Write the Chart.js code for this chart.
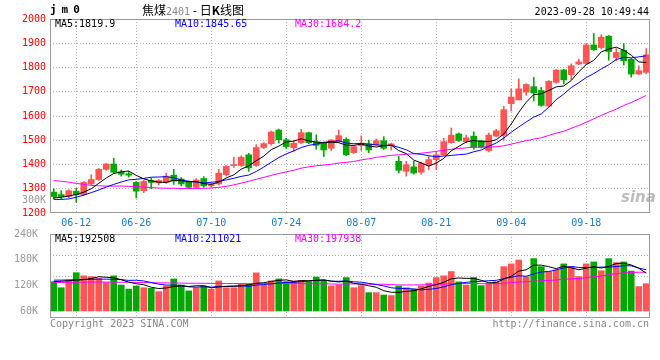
<!DOCTYPE html>
<html>
<head>
<meta charset="utf-8">
<script src="https://cdn.jsdelivr.net/npm/chart.js@4.4.0/dist/chart.umd.min.js"></script>
<style>
  body { margin: 0; background: #fff; }
  #wrap { position: relative; width: 660px; height: 360px; overflow: hidden; font-family: "DejaVu Sans Mono", monospace; font-size: 10px; }
  .t { position: absolute; white-space: pre; line-height: 12px; }
  canvas { position: absolute; left: 0; }
</style>
</head>
<body>
<div id="wrap">
  <canvas id="kline" width="660" height="234" style="top:0"></canvas>
  <canvas id="vol" width="660" height="110" style="top:220px"></canvas>

  <div class="t" style="left:50px;top:4px;font-weight:bold;font-size:11px;letter-spacing:5px">jm0</div>
  <div class="t" style="left:142px;top:3px;font-family:'Noto Sans CJK SC';font-size:12px;line-height:14px">焦煤<span style="color:#888;font-family:'DejaVu Sans Mono';font-size:10px">2401</span> - 日<b>K</b>线图</div>
  <div class="t" style="right:11px;top:6px;color:#000">2023-09-28 10:49:44</div>

  <div class="t" id="ma5" style="left:55px;top:18px;color:#000"></div>
  <div class="t" id="ma10" style="left:175px;top:18px;color:#0000ff"></div>
  <div class="t" id="ma30" style="left:295px;top:18px;color:#ff00ff"></div>

  <div class="t" style="right:614px;top:194px;color:#999">300K</div>

  <div class="t" id="vma5" style="left:55px;top:233px;color:#000"></div>
  <div class="t" id="vma10" style="left:175px;top:233px;color:#0000ff"></div>
  <div class="t" id="vma30" style="left:295px;top:233px;color:#ff00ff"></div>

  <div class="t" style="left:50px;top:318px;color:#888">Copyright 2023 SINA.COM</div>
  <div class="t" style="right:11px;top:318px;color:#888">http://finance.sina.com.cn</div>
  <div class="t" style="left:621px;top:188px;font-family:'DejaVu Sans';font-style:italic;font-weight:bold;font-size:15px;line-height:18px;color:rgba(160,160,160,0.7)">sina</div>
</div>
<script>
/*************
--- DATA ---
**************/

const dates = [
  "06-07","06-08","06-09","06-12","06-13","06-14","06-15","06-16","06-19","06-20",
  "06-21","06-26","06-27","06-28","06-29","06-30","07-03","07-04","07-05","07-06",
  "07-07","07-10","07-11","07-12","07-13","07-14","07-17","07-18","07-19","07-20",
  "07-21","07-24","07-25","07-26","07-27","07-28","07-31","08-01","08-02","08-03",
  "08-04","08-07","08-08","08-09","08-10","08-11","08-14","08-15","08-16","08-17",
  "08-18","08-21","08-22","08-23","08-24","08-25","08-28","08-29","08-30","08-31",
  "09-01","09-04","09-05","09-06","09-07","09-08","09-11","09-12","09-13","09-14",
  "09-15","09-18","09-19","09-20","09-21","09-22","09-25","09-26","09-27","09-28"
];
const xTicks = ["06-12", "06-26", "07-10", "07-24", "08-07", "08-21", "09-04", "09-18"];
const priceTicks = [1200, 1300, 1400, 1500, 1600, 1700, 1800, 1900, 2000];
const volTicks = [60, 120, 180, 240]; // K

const opens = [
  1286,1276,1268,1290,1276,1320,1338,1380,1402,1370, 1362,1326,1292,1334,1324,1326,1356,1340,1328,1306,
  1342,1312,1320,1358,1396,1396,1440,1396,1470,1486, 1542,1502,1469,1490,1531,1493,1488,1467,1494,1504,
  1449,1478,1485,1481,1498,1477,1413,1372,1390,1368, 1399,1420,1440,1490,1526,1494,1517,1498,1457,1517,
  1520,1651,1667,1698,1721,1705,1641,1739,1790,1770, 1814,1817,1893,1882,1929,1841,1871,1834,1773,1780
];
const closes = [
  1268,1268,1292,1276,1326,1338,1380,1402,1368,1360, 1356,1290,1330,1326,1334,1352,1332,1320,1306,1336,
  1312,1318,1364,1392,1400,1430,1386,1470,1486,1534, 1502,1474,1488,1531,1490,1479,1460,1501,1519,1440,
  1474,1488,1460,1498,1467,1485,1376,1399,1365,1406, 1420,1440,1494,1521,1499,1510,1471,1471,1521,1539,
  1626,1678,1712,1730,1695,1644,1743,1789,1749,1807, 1823,1893,1874,1925,1866,1862,1828,1773,1787,1852
];
const highs = [
  1300,1292,1296,1302,1330,1358,1384,1404,1426,1378, 1372,1330,1334,1344,1338,1364,1380,1346,1332,1342,
  1350,1322,1380,1396,1430,1436,1446,1482,1490,1538, 1546,1508,1498,1545,1533,1522,1492,1503,1542,1510,
  1478,1518,1501,1505,1515,1488,1433,1413,1413,1410, 1433,1450,1508,1551,1530,1521,1535,1500,1530,1545,
  1640,1712,1753,1733,1759,1718,1746,1793,1793,1815, 1834,1899,1940,1935,1932,1878,1899,1838,1807,1878
];
const lows = [
  1258,1258,1262,1244,1272,1316,1334,1376,1364,1352, 1348,1262,1284,1300,1316,1322,1318,1312,1302,1302,
  1306,1306,1316,1352,1388,1392,1372,1392,1466,1480, 1488,1466,1454,1485,1486,1463,1433,1458,1490,1436,
  1446,1458,1449,1478,1462,1460,1365,1352,1360,1360, 1379,1379,1438,1487,1495,1490,1463,1468,1452,1515,
  1500,1621,1665,1685,1662,1640,1638,1735,1732,1750, 1812,1812,1870,1878,1830,1828,1810,1760,1770,1775
];
const ma5 = [
  1262,1265,1270,1276,1286,1300,1322.4,1344.4,1362.8,1369.6, 1373.2,1355.2,1340.8,1332.4,1327.2,1326.4,1334.8,1332.8,1328.8,1329.2,
  1321.2,1318.4,1327.2,1344.4,1357.2,1380.8,1394.4,1415.6,1434.4,1461.2, 1475.6,1493.2,1496.8,1505.8,1497,1492.4,1489.6,1492.2,1489.8,1479.8,
  1478.8,1484.4,1476.2,1472,1477.4,1479.6,1457.2,1445,1418.4,1406.2, 1393.2,1406,1425,1456.2,1474.8,1492.8,1499,1494.4,1494.4,1502.4,
  1525.6,1567,1615.2,1657,1688.2,1691.8,1704.8,1720.2,1724,1746.4, 1782.2,1812.2,1829.2,1864.4,1876.2,1884,1871,1850.8,1823.2,1820.4
];
const ma10 = [
  1256,1256,1258,1265,1274,1284,1295,1307,1318,1327.8, 1336.6,1338.8,1342.6,1347.6,1348.4,1349.8,1345,1336.8,1330.6,1328.2,
  1323.8,1326.6,1330,1336.6,1343.2,1351,1356.4,1371.4,1389.4,1409.2, 1428.2,1443.8,1456.2,1470.1,1479.1,1484,1491.4,1494.5,1497.8,1488.4,
  1485.6,1487,1484.2,1480.9,1478.6,1479.2,1470.8,1460.6,1445.2,1441.8, 1436.4,1431.6,1435,1437.3,1440.5,1443,1452.5,1459.7,1475.3,1488.6,
  1509.2,1533,1554.8,1575.7,1595.3,1608.7,1635.9,1667.7,1690.5,1717.3, 1737,1758.5,1774.7,1794.2,1811.3,1833.1,1841.6,1840,1843.8,1848.3
];
const ma30 = [
  1334,1331,1327,1322,1318,1314,1312,1311,1311,1311, 1310,1309,1307,1305,1303,1302,1302,1301,1301,1301,
  1302,1303,1306,1310,1316,1323,1331,1339,1347,1355.1, 1362.9,1369.7,1376.3,1384.8,1390.2,1394.9,1397.6,1400.9,1405.9,1408.6,
  1412.5,1419.1,1423.5,1429.2,1433.6,1438.1,1439.5,1442.2,1444.1,1446.5, 1450.1,1454.1,1458.5,1462.8,1466.1,1468.7,1471.6,1471.6,1472.8,1472.9,
  1477.1,1483.9,1491.3,1498,1504.8,1510.3,1519.7,1529.3,1537,1549.2, 1560.9,1574.4,1588.2,1602.4,1615.7,1628.3,1643.3,1655.8,1669.9,1684.7
];

// volume, in thousands of lots
const vols = [
  150,119,158,196,180,176,167,145,180,133, 112,128,119,116,99,128,164,133,103,119,
  128,112,154,119,119,138,138,195,133,154, 164,150,154,156,150,174,158,128,133,171,
  119,130,94,94,82,79,128,119,112,128, 143,171,180,202,149,133,171,130,141,150,
  227,241,261,176,268,227,202,210,241,226, 176,241,251,206,268,248,251,204,125,140
];
const volMa5 = [
  150,152,155,158,160.6,165.8,175.4,172.8,169.6,160.2, 147.4,139.6,134.4,121.6,114.8,118,125.2,128,125.4,129.4,
  129.4,119,123.2,126.4,126.4,128.4,133.6,141.8,144.6,151.6, 156.8,159.2,151,155.6,154.8,156.8,158.4,153.2,148.6,152.8,
  141.8,136.2,129.4,121.6,103.8,95.8,95.4,100.4,104,113.2, 126,134.6,146.8,164.8,169,167,167,157,144.8,145,
  163.8,177.8,204,211,234.6,234.6,226.8,216.6,229.6,221.2, 211,218.8,227,220,228.4,242.8,244.8,235.4,219.2,193.6
];
const volMa10 = [
  158,158,159,160,161,162,163,163,162,160.4, 156.6,157.5,153.6,145.6,137.5,132.7,132.4,131.2,123.5,122.1,
  123.7,122.1,125.6,125.9,127.9,128.9,126.3,132.5,135.5,139, 142.6,146.4,146.4,150.1,153.2,156.8,158.8,152.1,152.1,153.8,
  149.3,147.3,141.3,135.1,128.3,118.8,115.8,114.9,112.8,108.5, 110.9,115,123.6,134.4,141.1,146.5,150.8,151.9,154.8,157,
  165.4,172.4,180.5,177.9,189.8,199.2,202.3,210.3,220.3,227.9, 222.8,222.8,221.8,224.8,224.8,226.9,231.8,231.2,219.6,211
];
const volMa30 = [
  146,146,147,147,148,148,148,148,148,147, 147,146,146,145,144,144,143,143,142,142,
  142,141,141,141,141,140,140,140,140,140.5, 141,142,141.9,140.5,139.5,139.5,139.2,138.6,137,138.3,
  138.5,138.6,137.8,137,136.5,134.8,133.6,133.2,133.5,133.8, 134.3,136.2,137.1,139.9,140.9,140.7,141.8,139.6,139.9,139.8,
  141.9,144.9,148.5,149.1,153.1,154.8,156.3,159,162.6,164.5, 166.4,170.1,175.3,179,185.2,190.9,195,197.8,198.2,198.6
];

const priceLegend = { ma5: "MA5:1819.9", ma10: "MA10:1845.65", ma30: "MA30:1684.2" };
const volLegend = { vma5: "MA5:192508", vma10: "MA10:211021", vma30: "MA30:197938" };

[opens, closes, highs, lows, ma5, ma10, ma30, vols, volMa5, volMa10, volMa30].forEach((a, k) => {
  if (a.length !== dates.length) throw new Error("array " + k + " has " + a.length);
});

/****************
--- SETTINGS ---
*****************/

const mono = '"DejaVu Sans Mono", monospace';
const upColor = "#ff5555";
const downColor = "#00a800";
const gridColor = "#b4b4b4";
const clear = "rgba(0,0,0,0)";

const candleColors = closes.map((c, i) => (c >= opens[i] ? upColor : downColor));

for (const id in priceLegend) document.getElementById(id).textContent = priceLegend[id];
for (const id in volLegend) document.getElementById(id).textContent = volLegend[id];

// grey box round the plot area
const framePlugin = {
  id: "frame",
  afterDraw(chart) {
    const { ctx, chartArea: a } = chart;
    ctx.save();
    ctx.strokeStyle = "#999";
    ctx.lineWidth = 1;
    ctx.strokeRect(Math.round(a.left) + 0.5, Math.round(a.top) + 0.5, Math.round(a.right - a.left) - 1, Math.round(a.bottom - a.top) - 1);
    ctx.restore();
  },
};

const maLine = (data, color, yAxisID) => ({
  type: "line",
  data: data,
  borderColor: color,
  borderWidth: 1,
  pointRadius: 0,
  tension: 0,
  order: 0,
  yAxisID: yAxisID,
});

const xScale = (showLabels) => ({
  offset: true,
  grid: {
    offset: false,
    drawTicks: false,
    color: (c) => (xTicks.includes(dates[c.index]) ? gridColor : clear),
  },
  border: { display: false, dash: [1, 2] },
  ticks: {
    display: showLabels,
    autoSkip: false,
    maxRotation: 0,
    padding: 4,
    color: "#1a7bd4",
    font: { family: mono, size: 10 },
    callback: (v, i) => (xTicks.includes(dates[i]) ? dates[i] : ""),
  },
  afterFit: (s) => {
    s.height = showLabels ? 21 : 0;
  },
});

/*******************
--- PRICE CHART ---
********************/

new Chart(document.getElementById("kline"), {
  type: "bar",
  data: {
    labels: dates,
    datasets: [
      maLine(ma5, "#000000", "y"),
      maLine(ma10, "#0000ff", "y"),
      maLine(ma30, "#ff00ff", "y"),
      {
        data: dates.map((d, i) => [Math.min(opens[i], closes[i]), Math.max(opens[i], closes[i])]),
        backgroundColor: candleColors,
        barThickness: 6,
        minBarLength: 1,
        grouped: false,
        order: 1,
      },
      {
        data: dates.map((d, i) => [lows[i], highs[i]]),
        backgroundColor: candleColors,
        barThickness: 1,
        grouped: false,
        order: 2,
      },
    ],
  },
  options: {
    responsive: false,
    animation: false,
    layout: { padding: { top: 19, right: 10, left: 0, bottom: 0 } },
    plugins: { legend: { display: false }, tooltip: { enabled: false } },
    scales: {
      x: xScale(true),
      y: {
        min: 1200,
        max: 2000,
        afterBuildTicks: (s) => {
          s.ticks = priceTicks.map((v) => ({ value: v }));
        },
        ticks: { color: "#ff0000", padding: 4, font: { family: mono, size: 10 }, callback: (v) => String(v) },
        grid: {
          drawTicks: false,
          color: (c) => (c.tick.value > 1200 && c.tick.value < 2000 ? gridColor : clear),
        },
        border: { display: false, dash: [1, 2] },
        afterFit: (s) => {
          s.width = 50;
        },
      },
    },
  },
  plugins: [framePlugin],
});

/********************
--- VOLUME CHART ---
*********************/

new Chart(document.getElementById("vol"), {
  type: "bar",
  data: {
    labels: dates,
    datasets: [
      maLine(volMa5, "#000000", "y"),
      maLine(volMa10, "#0000ff", "y"),
      maLine(volMa30, "#ff00ff", "y"),
      {
        data: vols,
        backgroundColor: candleColors,
        barThickness: 6,
        grouped: false,
        order: 1,
        yAxisID: "y",
      },
    ],
  },
  options: {
    responsive: false,
    animation: false,
    layout: { padding: { top: 14, right: 10, left: 0, bottom: 12 } },
    plugins: { legend: { display: false }, tooltip: { enabled: false } },
    scales: {
      x: xScale(false),
      y: {
        position: "left",
        min: -35.8,
        max: 394,
        ticks: { display: false, count: 5 },
        grid: {
          drawTicks: false,
          color: (c) => (c.index > 0 && c.index < 4 ? gridColor : clear),
        },
        border: { display: false, dash: [1, 2] },
        afterFit: (s) => {
          s.width = 0;
        },
      },
      yl: {
        position: "left",
        min: 43.6,
        max: 240,
        afterBuildTicks: (s) => {
          s.ticks = volTicks.map((v) => ({ value: v }));
        },
        ticks: { color: "#999", padding: 4, font: { family: mono, size: 10 }, callback: (v) => v + "K" },
        grid: { display: false },
        border: { display: false },
        afterFit: (s) => {
          s.width = 50;
        },
      },
    },
  },
  plugins: [framePlugin],
});
</script>
</body>
</html>
